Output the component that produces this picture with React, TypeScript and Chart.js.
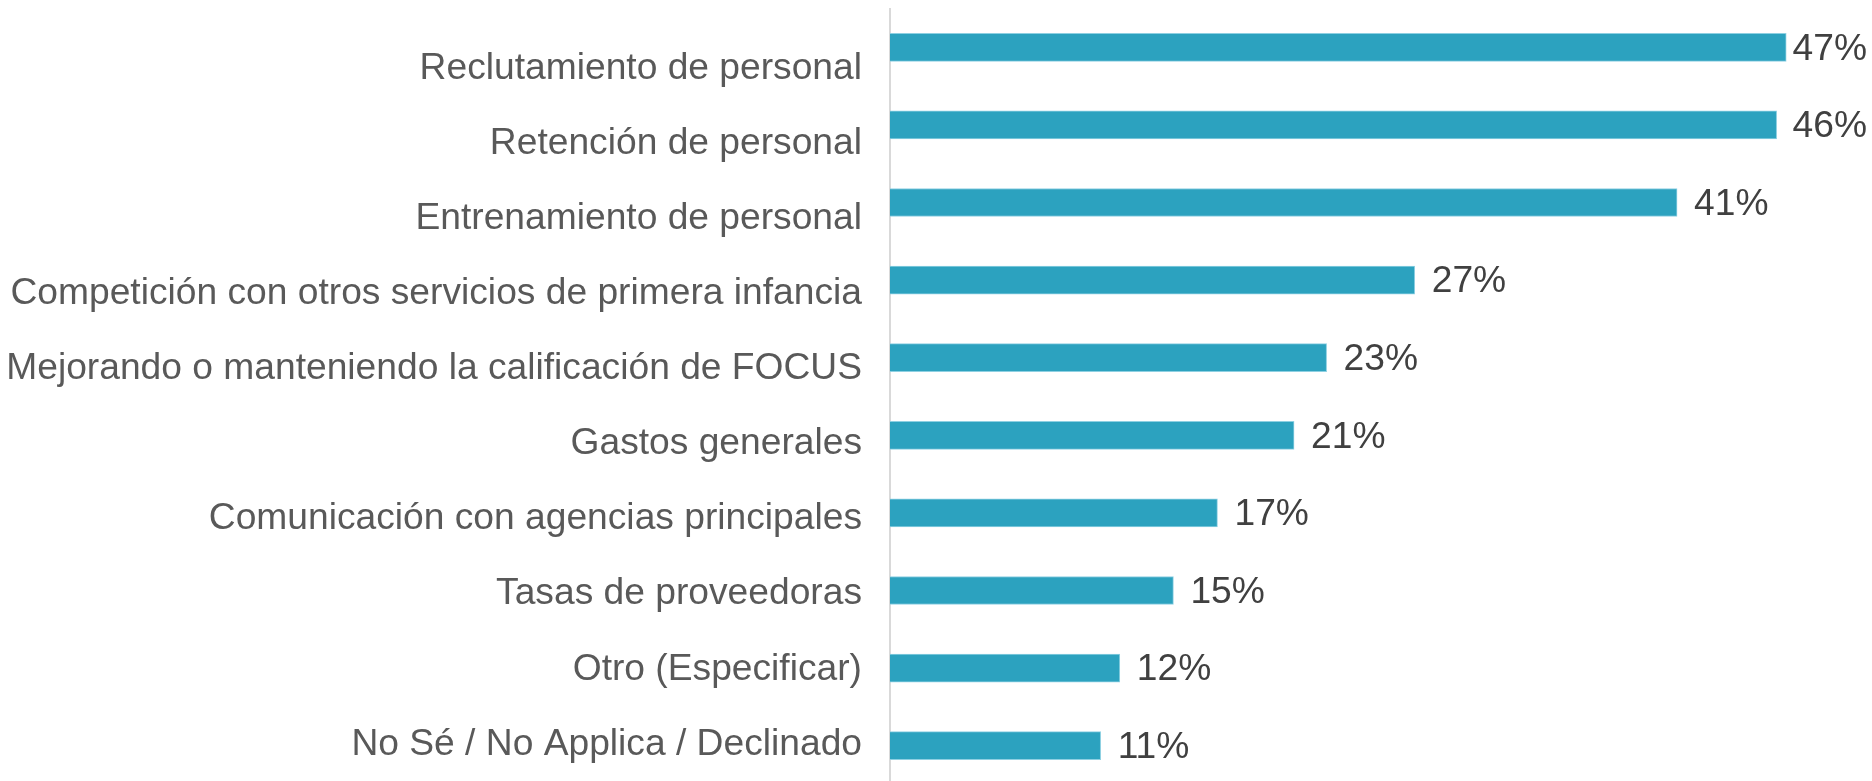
import React, { useEffect, useRef } from "react";
import { Chart, registerables } from "chart.js";

Chart.register(...registerables);

const categories = [
  "Reclutamiento de personal",
  "Retención de personal",
  "Entrenamiento de personal",
  "Competición con otros servicios de primera infancia",
  "Mejorando o manteniendo la calificación de FOCUS",
  "Gastos generales",
  "Comunicación con agencias principales",
  "Tasas de proveedoras",
  "Otro (Especificar)",
  "No Sé / No Applica / Declinado",
];

const values = [46.8, 46.3, 41.1, 27.4, 22.8, 21.1, 17.1, 14.8, 12.0, 11.0];

const xMin = 0;
const xMax = 50;
// label axis (category text sits on its own index axis, slightly tighter spacing than the bars)
const labelAxisMin = -0.799;
const labelAxisMax = 9.534;

const FONT = "'Liberation Sans', Arial, sans-serif";
const FONT_SIZE = 37.2;

const dataLabelPlugin = {
  id: "dataLabels",
  afterDatasetsDraw(chart: any) {
    const ctx = chart.ctx;
    const meta = chart.getDatasetMeta(0);
    ctx.save();
    ctx.font = `${FONT_SIZE}px ${FONT}`;
    ctx.fillStyle = "#404040";
    ctx.textBaseline = "middle";
    ctx.textAlign = "left";
    meta.data.forEach((bar: any, i: number) => {
      const txt = Math.round(values[i]) + "%";
      const w = ctx.measureText(txt).width;
      let x = bar.x + 17;
      const maxX = chart.width - 5 - w;
      if (x > maxX) x = maxX;
      ctx.fillText(txt, x, bar.y + 2);
    });
    ctx.restore();
  },
};

export default function App() {
  const ref = useRef<HTMLCanvasElement | null>(null);

  useEffect(() => {
    document.body.style.margin = "0";
    if (!ref.current) return;
    const chart = new Chart(ref.current, {
      type: "bar",
      data: {
        labels: categories,
        datasets: [
          {
            data: values,
            backgroundColor: "#2CA2BF",
            borderColor: "#8ED0E2",
            borderWidth: 1,
            borderSkipped: "start",
            barThickness: 28,
            xAxisID: "x",
            yAxisID: "y",
          },
        ],
      },
      options: {
        indexAxis: "y",
        animation: false,
        responsive: false,
        maintainAspectRatio: false,
        layout: { padding: { top: 8.5, bottom: 5.5, left: 0, right: 24.5 } },
        plugins: {
          legend: { display: false },
          tooltip: { enabled: false },
        },
        scales: {
          x: {
            display: false,
            min: xMin,
            max: xMax,
          },
          y: {
            position: "left",
            weight: 0,
            afterFit: (scale: any) => {
              scale.width = 0;
              scale.paddingTop = 0;
              scale.paddingBottom = 0;
            },
            grid: { display: false, drawTicks: false },
            border: { display: true, color: "#D9D9D9", width: 2 },
            ticks: { display: false },
          },
          yl: {
            type: "linear",
            position: "left",
            weight: 1,
            offset: false,
            reverse: true,
            min: labelAxisMin,
            max: labelAxisMax,
            afterBuildTicks: (scale: any) => {
              scale.ticks = categories.map((_, i) => ({ value: i }));
            },
            afterFit: (scale: any) => {
              scale.width = 890;
              scale.paddingTop = 0;
              scale.paddingBottom = 0;
            },
            grid: { display: false, drawTicks: false, offset: false },
            border: { display: false },
            ticks: {
              color: "#595959",
              font: { family: FONT, size: FONT_SIZE },
              padding: 28,
              autoSkip: false,
              callback: (v: any) => categories[v as number] ?? "",
            },
          },
        },
      },
      plugins: [dataLabelPlugin],
    });
    return () => chart.destroy();
  }, []);

  return (
    <div style={{ width: 1872, height: 781, overflow: "hidden", background: "#fff" }}>
      <canvas ref={ref} width={1872} height={790} style={{ display: "block" }} />
    </div>
  );
}
